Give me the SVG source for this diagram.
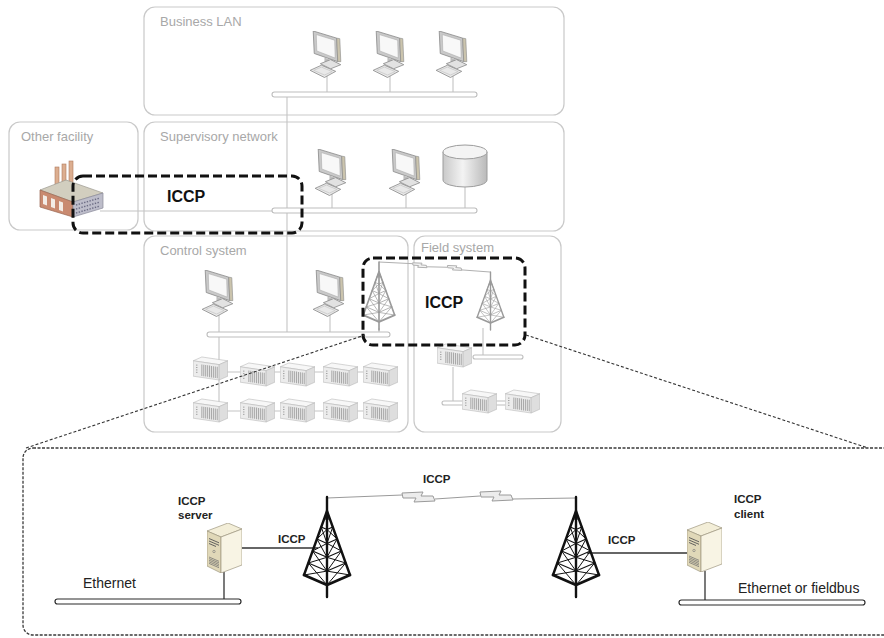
<svg xmlns="http://www.w3.org/2000/svg" xmlns:xlink="http://www.w3.org/1999/xlink" width="884" height="638" viewBox="0 0 884 638">
  <style>
    .panel { fill: #ffffff; stroke: #c9c9c9; stroke-width: 1.2; }
    .plabel { font-family: "Liberation Sans", Arial, sans-serif; font-size: 13px; fill: #a8a8a8; }
    .wire { fill: none; stroke: #c4c4c4; stroke-width: 1.1; }
    .bus { fill: #ffffff; stroke: #bdbdbd; stroke-width: 1.1; }
    .bus-dark { fill: #ffffff; stroke: #2a2a2a; stroke-width: 1.2; }
    .wire-dark { fill: none; stroke: #333333; stroke-width: 1.3; }
    .focus { fill: none; stroke: #111111; stroke-width: 3; stroke-dasharray: 9 4; }
    .zoomline { fill: none; stroke: #333333; stroke-width: 1.1; stroke-dasharray: 3 2; }
    .big { font-family: "Liberation Sans", Arial, sans-serif; font-size: 16px; font-weight: 700; fill: #111111; }
    .lbl { font-family: "Liberation Sans", Arial, sans-serif; font-size: 11.5px; font-weight: 700; fill: #222222; }
    .net { font-family: "Liberation Sans", Arial, sans-serif; font-size: 14px; fill: #222222; }
  </style>
  <defs>
    <linearGradient id="cyl" x1="0" y1="0" x2="1" y2="0">
      <stop offset="0" stop-color="#c9c9c9"/>
      <stop offset="0.45" stop-color="#f3f3f3"/>
      <stop offset="1" stop-color="#b9b9b9"/>
    </linearGradient>
    <!-- desktop workstation -->
    <symbol id="pc" viewBox="0 0 32 46">
      <polygon points="3,0 26,7 27,30 4,22" fill="#c9c9c9" stroke="#8a8a8a" stroke-width="0.8"/>
      <polygon points="6,3.5 24,9 24.5,26.5 6.5,19.5" fill="#f8f8f8" stroke="#a5a5a5" stroke-width="0.5"/>
      <polygon points="26,7 29,7.5 30,30 27,30" fill="#cbc4ad" stroke="#8a8a8a" stroke-width="0.6"/>
      <polygon points="14,26 19,28 19,32 14,30" fill="#bdbdbd"/>
      <polygon points="10,32 20,28 30,33 20,37" fill="#e2e2e2" stroke="#8a8a8a" stroke-width="0.8"/>
      <polygon points="0,38.5 11,33.5 25,39.5 14,45.5" fill="#e9e9e9" stroke="#8a8a8a" stroke-width="0.8"/>
      <polygon points="3.5,38.5 11,35.3 21.5,39.7 14,43.1" fill="none" stroke="#b5b5b5" stroke-width="0.5"/>
    </symbol>
    <!-- rack-mounted controller -->
    <symbol id="rack" viewBox="0 0 36 26">
      <polygon points="0,5 9,1 36,5 27,9" fill="#f7f7f7" stroke="#b8b8b8" stroke-width="0.6"/>
      <polygon points="0,5 27,9 27,25 0,21" fill="#ececec" stroke="#b8b8b8" stroke-width="0.6"/>
      <polygon points="27,9 36,5 36,21 27,25" fill="#dedede" stroke="#b8b8b8" stroke-width="0.6"/>
      <path d="M9,8.8V20.8 M11,9.1V21.1 M13,9.4V21.4 M15,9.7V21.7 M17,10V22 M19,10.3V22.3 M21,10.6V22.6 M23,10.9V22.9 M25,11.2V23.2" stroke="#a9a9a9" stroke-width="1.1"/>
      <path d="M3,9.5h1.4 M3,12h1.4 M3,14.5h1.4 M3,17h1.4" stroke="#9a9a9a" stroke-width="1"/>
    </symbol>
    <!-- tower server -->
    <symbol id="server" viewBox="0 0 35 50">
      <polygon points="0,8 21,0 35,6 14,14" fill="#f3eed8" stroke="#9d9780" stroke-width="0.7"/>
      <polygon points="0,8 14,14 14,50 0,43" fill="#e0d8b8" stroke="#9d9780" stroke-width="0.7"/>
      <polygon points="14,14 35,6 35,42 14,50" fill="#f8f4e4" stroke="#9d9780" stroke-width="0.7"/>
      <path d="M2,15.5 L12,19.8 M2,18 L12,22.3 M2,20.5 L9,23.5" stroke="#555" stroke-width="0.9"/>
      <circle cx="7" cy="28.5" r="1.2" fill="none" stroke="#777" stroke-width="0.6"/>
      <path d="M2,34 L12,38.3 M2,35.6 L12,39.9 M2,37.2 L12,41.5 M2,38.8 L12,43.1 M2,40.4 L12,44.7" stroke="#6a6a6a" stroke-width="0.7"/>
    </symbol>
    <!-- lattice radio mast -->
    <symbol id="mast" viewBox="0 0 50 100" overflow="visible">
      <g fill="none" stroke="currentColor" stroke-linecap="round" stroke-linejoin="round">
        <path d="M25,0 V20" stroke-width="2.4"/>
        <path d="M25,14 L2,78 M25,14 L48,78 M25,14 L25,100" stroke-width="2.4"/>
        <path d="M2,78 L25,88 L48,78" stroke-width="2.8"/>
        <path d="M19.25,30 L25,32.5 L30.75,30 M14.94,42 L25,46.4 L35.06,42 M10.63,54 L25,60.3 L39.38,54 M6.31,66 L25,74.1 L43.69,66" stroke-width="1.1"/>
        <path d="M19.25,30 L25,46.4 M25,32.5 L14.94,42 M30.75,30 L25,46.4 M25,32.5 L35.06,42
                 M14.94,42 L25,60.3 M25,46.4 L10.63,54 M35.06,42 L25,60.3 M25,46.4 L39.38,54
                 M10.63,54 L25,74.1 M25,60.3 L6.31,66 M39.38,54 L25,74.1 M25,60.3 L43.69,66
                 M6.31,66 L25,88 M25,74.1 L2,78 M43.69,66 L25,88 M25,74.1 L48,78
                 M25,14 L19.25,30 M25,14 L30.75,30 M22,22 L28,22" stroke-width="1"/>
      </g>
    </symbol>
    <!-- wireless link between two masts, drawn left to right over 249 units -->
    <g id="radio-link">
      <path d="M0,0 L75,-3 M108,1 L153,-2 M186,1 L249,0" fill="none" vector-effect="non-scaling-stroke"/>
      <polygon points="75,-5 96,-6 94,-2 106,-2 108,3 87,4 89,0 76,0" vector-effect="non-scaling-stroke"/>
      <polygon points="153,-6 174,-7 172,-3 184,-3 186,2 165,3 167,-1 154,-1" vector-effect="non-scaling-stroke"/>
    </g>
  </defs>

  <!-- zones -->
  <g id="zones">
    <g id="business-lan">
      <rect class="panel" x="144" y="7" width="420" height="108" rx="11"/>
      <text class="plabel" x="160" y="26">Business LAN</text>
    </g>
    <g id="other-facility">
      <rect class="panel" x="9" y="122" width="129" height="108" rx="11"/>
      <text class="plabel" x="21" y="141">Other facility</text>
    </g>
    <g id="supervisory-network">
      <rect class="panel" x="144" y="122" width="420" height="109" rx="11"/>
      <text class="plabel" x="160" y="141">Supervisory network</text>
    </g>
    <g id="control-system">
      <rect class="panel" x="144" y="236" width="264" height="196" rx="11"/>
      <text class="plabel" x="160" y="255">Control system</text>
    </g>
    <g id="field-system">
      <rect class="panel" x="414" y="236" width="147" height="196" rx="11"/>
      <text class="plabel" x="421" y="252">Field system</text>
    </g>
  </g>

  <!-- connectors -->
  <g id="connectors">
    <path class="wire" d="M287,97 V332"/>
    <path class="wire" d="M327,76 V92 M390,76 V92 M453,76 V92"/>
    <path class="wire" d="M332,194 V208 M406,194 V208 M465,187 V208"/>
    <path class="wire" d="M100,211 H272"/>
    <path class="wire" d="M219,315 V332 M330,315 V332 M379,328 V332"/>
    <path class="wire" d="M219,337 V411 M219,372 H380 M219,411 H380"/>
    <path class="wire" d="M483,328 V355 M453,367 V401"/>
    <rect class="bus" x="272" y="92" width="205" height="5" rx="2.5"/>
    <rect class="bus" x="272" y="208" width="205" height="5" rx="2.5"/>
    <rect class="bus" x="207" y="332" width="183" height="5" rx="2.5"/>
    <rect class="bus" x="473" y="355" width="50" height="4" rx="2"/>
    <rect class="bus" x="442" y="401" width="68" height="4" rx="2"/>
    <use href="#radio-link" transform="translate(379,262) rotate(5.15) scale(0.4476)" fill="#f3f3f3" stroke="#b0b0b0" stroke-width="1"/>
    <!-- detail view links -->
    <path class="wire-dark" d="M242,548 H318"/>
    <path class="wire-dark" d="M587,553 H687"/>
    <path class="wire-dark" d="M224,572 V599"/>
    <path class="wire-dark" d="M705,571 V600"/>
    <use href="#radio-link" transform="translate(327,498)" fill="#ececec" stroke="#9a9a9a" stroke-width="1"/>
  </g>

  <!-- business LAN workstations -->
  <g id="biz-pc-1"><use href="#pc" x="310" y="31" width="33" height="47"/></g>
  <g id="biz-pc-2"><use href="#pc" x="373" y="31" width="33" height="47"/></g>
  <g id="biz-pc-3"><use href="#pc" x="436" y="31" width="33" height="47"/></g>

  <!-- supervisory workstations and historian -->
  <g id="sup-pc-1"><use href="#pc" x="315" y="149" width="33" height="47"/></g>
  <g id="sup-pc-2"><use href="#pc" x="389" y="149" width="33" height="47"/></g>
  <g id="historian">
    <path d="M443,152 V180 A22,7 0 0 0 487,180 V152" fill="url(#cyl)" stroke="#9c9c9c" stroke-width="1"/>
    <ellipse cx="465" cy="152" rx="22" ry="7" fill="#f4f4f4" stroke="#9c9c9c" stroke-width="1"/>
  </g>

  <!-- remote plant -->
  <g id="factory">
    <rect x="55" y="167" width="4" height="24" fill="#dcae90" stroke="#b07a5c" stroke-width="0.6"/>
    <rect x="62" y="164" width="4" height="26" fill="#dcae90" stroke="#b07a5c" stroke-width="0.6"/>
    <rect x="69" y="161" width="4" height="28" fill="#dcae90" stroke="#b07a5c" stroke-width="0.6"/>
    <polygon points="40,190 66,180 103,193 73,202" fill="#d2cebf" stroke="#9c9a90" stroke-width="0.7"/>
    <polygon points="40,190 73,202 73,217 40,207" fill="#c98a70" stroke="#9a6550" stroke-width="0.7"/>
    <polygon points="73,202 103,193 103,208 73,217" fill="#bdbdca" stroke="#8a8a99" stroke-width="0.7"/>
    <polygon points="43,195 47,196.5 47,205.5 43,204" fill="#f3ece6"/>
    <polygon points="51,198 55,199.5 55,208.5 51,207" fill="#f3ece6"/>
    <polygon points="59,201 63,202.5 63,211.5 59,210" fill="#f3ece6"/>
    <path d="M76,205 L100,198 M76,209 L100,202 M76,213 L100,206" stroke="#6c6c84" stroke-width="1.4" stroke-dasharray="1.4 1.4"/>
  </g>

  <!-- control system -->
  <g id="ctl-pc-1"><use href="#pc" x="202" y="270" width="33" height="47"/></g>
  <g id="ctl-pc-2"><use href="#pc" x="313" y="270" width="33" height="47"/></g>
  <g id="ctl-mast"><use href="#mast" x="362" y="262" width="34" height="68" color="#9a9a9a"/></g>
  <g id="ctl-racks">
    <use href="#rack" x="193" y="356" width="35" height="25"/>
    <use href="#rack" x="240" y="362" width="35" height="25"/>
    <use href="#rack" x="280" y="362" width="35" height="25"/>
    <use href="#rack" x="323" y="362" width="35" height="25"/>
    <use href="#rack" x="363" y="362" width="35" height="25"/>
    <use href="#rack" x="193" y="398" width="35" height="25"/>
    <use href="#rack" x="240" y="398" width="35" height="25"/>
    <use href="#rack" x="280" y="398" width="35" height="25"/>
    <use href="#rack" x="323" y="398" width="35" height="25"/>
    <use href="#rack" x="363" y="398" width="35" height="25"/>
  </g>

  <!-- field system -->
  <g id="field-mast"><use href="#mast" x="476" y="272" width="29" height="58" color="#9a9a9a"/></g>
  <g id="field-racks">
    <use href="#rack" x="437" y="343" width="35" height="25"/>
    <use href="#rack" x="462" y="389" width="35" height="25"/>
    <use href="#rack" x="505" y="389" width="35" height="25"/>
  </g>

  <!-- highlighted ICCP paths -->
  <g id="iccp-inter-site">
    <rect class="focus" x="73" y="176" width="229" height="57" rx="10"/>
    <text class="big" x="167" y="202">ICCP</text>
  </g>
  <g id="iccp-field">
    <rect class="focus" x="363" y="258" width="162" height="87" rx="10"/>
    <text class="big" x="425" y="308">ICCP</text>
  </g>

  <!-- detail callout -->
  <g id="callout">
    <path class="zoomline" d="M26,448 L365,335"/>
    <path class="zoomline" d="M526,335 L868,448"/>
    <rect x="23" y="448" width="900" height="187" rx="10" fill="none" stroke="#3a3a3a" stroke-width="1.3" stroke-dasharray="3 1.5"/>
  </g>

  <!-- detail view -->
  <g id="iccp-server">
    <use href="#server" x="207" y="523" width="35" height="50"/>
    <text class="lbl" x="178" y="505">ICCP</text>
    <text class="lbl" x="178" y="519">server</text>
  </g>
  <g id="iccp-client">
    <use href="#server" x="687" y="522" width="35" height="50"/>
    <text class="lbl" x="734" y="503">ICCP</text>
    <text class="lbl" x="734" y="518">client</text>
  </g>
  <g id="mast-left"><use href="#mast" x="302" y="497" width="50" height="100" color="#111111"/></g>
  <g id="mast-right"><use href="#mast" x="551" y="497" width="50" height="100" color="#111111"/></g>
  <g id="ethernet">
    <rect class="bus-dark" x="55" y="599" width="186" height="5" rx="2.5"/>
    <text class="net" x="83" y="588">Ethernet</text>
  </g>
  <g id="fieldbus">
    <rect class="bus-dark" x="679" y="600" width="186" height="5" rx="2.5"/>
    <text class="net" x="738" y="593">Ethernet or fieldbus</text>
  </g>
  <g id="detail-labels">
    <text class="lbl" x="423" y="483">ICCP</text>
    <text class="lbl" x="278" y="543">ICCP</text>
    <text class="lbl" x="608" y="544">ICCP</text>
  </g>
</svg>
